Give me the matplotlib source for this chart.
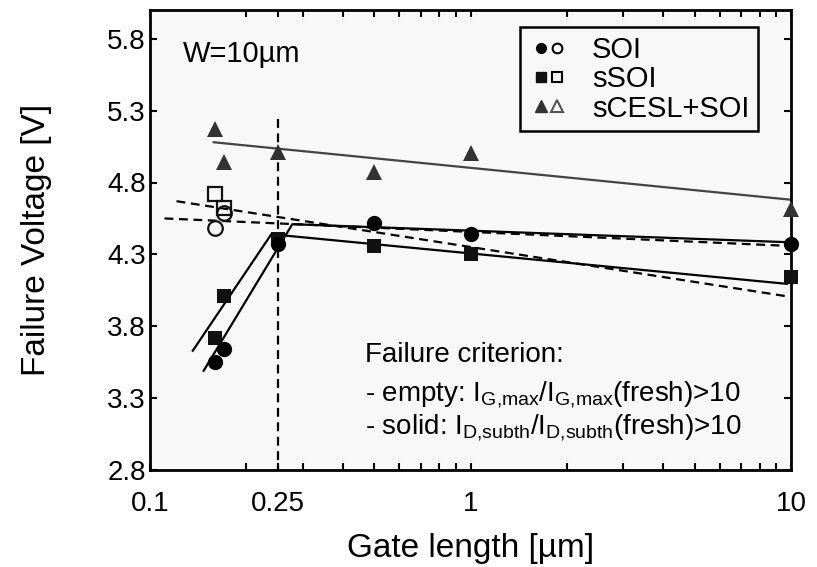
import numpy as np
import matplotlib
matplotlib.use("Agg")
import matplotlib.pyplot as plt
from matplotlib.lines import Line2D
from matplotlib.legend_handler import HandlerTuple
from matplotlib.ticker import FixedLocator, NullFormatter

plt.rcParams['font.family'] = ['Liberation Sans', 'DejaVu Sans']
plt.rcParams['mathtext.fontset'] = 'custom'
plt.rcParams['mathtext.rm'] = 'Liberation Sans'
plt.rcParams['mathtext.it'] = 'Liberation Sans:italic'

# gate lengths [um] and failure voltages [V]
gate_len = [0.16, 0.17, 0.25, 0.5, 1, 10]
soi_solid = [3.55, 3.64, 4.37, 4.52, 4.44, 4.37]
ssoi_solid = [3.72, 4.01, 4.41, 4.355, 4.30, 4.14]
scesl_solid = [5.17, 4.94, 5.01, 4.87, 5.005, 4.615]

gate_len_short = [0.16, 0.17]
soi_open = [4.48, 4.59]
ssoi_open = [4.72, 4.62]

# trend lines
scesl_fit_x = [0.158, 10]
scesl_fit_y = [5.08, 4.68]
soi_fit_x = [0.147, 0.278, 9.7]
soi_fit_y = [3.49, 4.51, 4.385]
ssoi_fit_x = [0.136, 0.239, 9.7]
ssoi_fit_y = [3.63, 4.44, 4.095]
soi_open_fit_x = [0.111, 9.6]
soi_open_fit_y = [4.55, 4.36]
ssoi_open_fit_x = [0.121, 9.6]
ssoi_open_fit_y = [4.67, 4.01]

x_ticks = [0.1, 0.25, 1, 10]
x_ticklabels = ['0.1', '0.25', '1', '10']
y_ticks = [2.8, 3.3, 3.8, 4.3, 4.8, 5.3, 5.8]

fig = plt.figure(figsize=(8.17, 5.67), dpi=100)
ax = fig.add_axes([150/817, 1-470/567, 641/817, 460/567])
ax.set_facecolor('#f8f8f8')

dash = (0, (4, 2.5))
ax.plot(scesl_fit_x, scesl_fit_y, color='#444444', lw=1.6)
ax.plot(soi_fit_x, soi_fit_y, color='black', lw=1.6)
ax.plot(ssoi_fit_x, ssoi_fit_y, color='black', lw=1.6)
ax.plot(soi_open_fit_x, soi_open_fit_y, color='black', lw=1.6, ls=dash)
ax.plot(ssoi_open_fit_x, ssoi_open_fit_y, color='black', lw=1.6, ls=dash)
ax.plot([0.25, 0.25], [5.24, 2.8], color='black', lw=1.6, ls=dash)

ax.plot(gate_len, scesl_solid, '^', color='#333333', ms=12, mew=0, clip_on=False, zorder=5)
ax.plot(gate_len, ssoi_solid, 's', color='#111111', ms=10, mew=0, clip_on=False, zorder=5)
ax.plot(gate_len, soi_solid, 'o', color='black', ms=11, mew=0, clip_on=False, zorder=5)
ax.plot(gate_len_short, ssoi_open, 's', mfc='none', mec='#111111', ms=10, mew=1.6, zorder=5)
ax.plot(gate_len_short, soi_open, 'o', mfc='none', mec='#111111', ms=10.5, mew=1.6, zorder=5)

ax.set_xscale('log')
ax.set_xlim(0.1, 10)
ax.set_ylim(2.8, 6.0)
ax.xaxis.set_major_locator(FixedLocator(x_ticks))
ax.set_xticklabels(x_ticklabels)
ax.xaxis.set_minor_formatter(NullFormatter())
ax.set_yticks(y_ticks)
ax.set_yticklabels(['%.1f' % v for v in y_ticks])
ax.tick_params(which='both', direction='in', top=True, right=True, width=1.5)
ax.tick_params(which='major', length=5, labelsize=20)
ax.tick_params(which='minor', length=5)
ax.tick_params(axis='x', pad=15)
ax.tick_params(axis='y', pad=3)
for s in ax.spines.values():
    s.set_linewidth(2)

ax.set_xlabel('Gate length [µm]', fontsize=24)
ax.set_ylabel('Failure Voltage [V]', fontsize=24)
ax.xaxis.set_label_coords(0.5, -0.138)
ax.yaxis.set_label_coords(-0.153, 0.5)

ax.text(0.052, 0.905, 'W=10µm', transform=ax.transAxes, fontsize=21, va='center')
ax.text(0.335, 0.25, 'Failure criterion:', transform=ax.transAxes, fontsize=20, va='center')
ax.text(0.335, 0.163, r'- empty: I$_{\mathregular{G{,}max}}$/I$_{\mathregular{G{,}max}}$(fresh)>10',
        transform=ax.transAxes, fontsize=20, va='center')
ax.text(0.335, 0.093, r'- solid: I$_{\mathregular{D{,}subth}}$/I$_{\mathregular{D{,}subth}}$(fresh)>10',
        transform=ax.transAxes, fontsize=20, va='center')

h_soi = (Line2D([], [], marker='o', ls='none', color='black', ms=7),
         Line2D([], [], marker='o', ls='none', mfc='none', mec='black', ms=7, mew=1.5))
h_ssoi = (Line2D([], [], marker='s', ls='none', color='#111111', ms=6.5),
          Line2D([], [], marker='s', ls='none', mfc='none', mec='black', ms=6.5, mew=1.5))
h_scesl = (Line2D([], [], marker='^', ls='none', color='#333333', ms=8),
           Line2D([], [], marker='^', ls='none', mfc='none', mec='#555555', ms=8, mew=1.5))
leg = ax.legend([h_soi, h_ssoi, h_scesl], ['SOI', 'sSOI', 'sCESL+SOI'],
                handler_map={tuple: HandlerTuple(ndivide=None, pad=-0.3)},
                loc='upper right', bbox_to_anchor=(0.9485, 0.963), borderaxespad=0,
                fontsize=21, frameon=True, fancybox=False, handlelength=1.37,
                handletextpad=0.79, labelspacing=0.05, borderpad=0.3)
leg.get_frame().set_edgecolor('black')
leg.get_frame().set_linewidth(1.8)
leg.get_frame().set_facecolor('#f8f8f8')
leg.get_frame().set_alpha(1)

fig.savefig('out.png', dpi=100)
